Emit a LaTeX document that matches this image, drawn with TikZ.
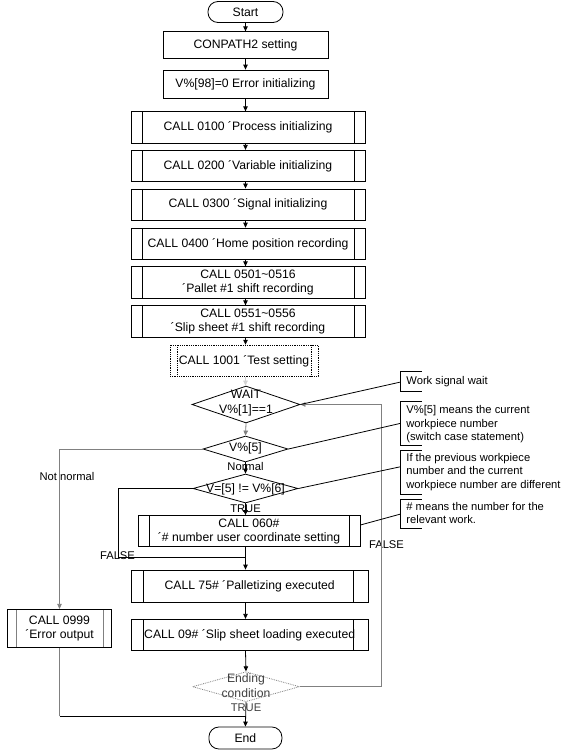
\documentclass[tikz,border=0pt]{standalone}
\usepackage{fontspec}
\setmainfont{Liberation Sans}
\usetikzlibrary{arrows.meta,shapes.geometric}
\definecolor{lgray}{HTML}{808080}
\tikzset{bars/.style={solid}}
\begin{document}
\begin{tikzpicture}[x=1pt,y=-1pt, line width=0.8pt,
  every node/.style={font=\fontsize{12.2}{14}\selectfont, inner sep=0pt, align=center},
  tip/.style={-{Triangle[length=5pt,width=4.5pt]}},
  term/.style={draw, rounded corners=10pt, minimum width=#1, minimum height=21pt},
  procbox/.style 2 args={draw, minimum width=#1, minimum height=#2},
  callbox/.style n args={4}{draw, minimum width=#1, minimum height=#2,
    path picture={\draw[bars] ([xshift=#3]path picture bounding box.north west) -- ([xshift=#3]path picture bounding box.south west);
                  \draw[bars] ([xshift=-#4]path picture bounding box.north east) -- ([xshift=-#4]path picture bounding box.south east);}},
  dia/.style 2 args={diamond, draw, minimum width=#1, minimum height=#2},
  lab/.style={font=\fontsize{11.2}{13.5}\selectfont},
  note/.style={font=\fontsize{11.2}{13.5}\selectfont, align=left, anchor=west}
]
\fill[white] (0,0) rectangle (563,750);
\coordinate (axis) at (245.5,0);

% main column
\node[term=75pt] (start) at (245.5,12) {Start};
\node[procbox={165pt}{26.5pt}] (conpath) at (245.5,45) {CONPATH2 setting};
\node[procbox={165pt}{28pt}] (v98) at (245.5,84) {V\%[98]=0 Error initializing};
\node[callbox={234pt}{31.5pt}{11.5pt}{11pt}] (c0100) at (248,127.5) {CALL 0100 ´Process initializing};
\node[callbox={234pt}{31.5pt}{11.5pt}{11pt}] (c0200) at (248,166) {CALL 0200 ´Variable initializing};
\node[callbox={234pt}{31.5pt}{11.5pt}{11pt}] (c0300) at (248,204.7) {CALL 0300 ´Signal initializing};
\node[callbox={234pt}{31.5pt}{11.5pt}{11pt}] (c0400) at (248,243.8) {CALL 0400 ´Home position recording};
\node[callbox={234pt}{31.5pt}{11.5pt}{11pt}] (c0501) at (248,282.5) {CALL 0501\textasciitilde 0516\\´Pallet \#1 shift recording};
\node[callbox={234pt}{31.5pt}{11.5pt}{11pt}] (c0551) at (248,321.5) {CALL 0551\textasciitilde 0556\\´Slip sheet \#1 shift recording};
\node[callbox={148pt}{31.7pt}{7.7pt}{6.6pt}, densely dotted, bars/.style={densely dotted}] (c1001) at (244,361) {CALL 1001 ´Test setting};

\node[dia={108pt}{37pt}] (wait) at (246,404.5) {};
\node[font=\fontsize{12.2}{15}\selectfont] (waitt) at (246,403.5) {WAIT\\V\%[1]==1};
\node[dia={85pt}{26pt}] (v5) at (245.5,449) {};
\node (v5t) at (245.5,448.5) {V\%[5]};
\node[dia={105pt}{29pt}] (vne) at (245.5,488.5) {};
\node (vnet) at (245.5,489) {V=[5] != V\%[6]};

\node[callbox={222pt}{31pt}{11pt}{11pt}] (c060) at (249,531) {CALL 060\#\\´\# number user coordinate setting};
\node[callbox={237pt}{32pt}{11.7pt}{15pt}] (c75) at (249.7,586) {CALL 75\# ´Palletizing executed};
\node[callbox={237pt}{31.5pt}{11.7pt}{15pt}] (c09) at (249.7,635) {CALL 09\# ´Slip sheet loading executed};
\node[dia={107pt}{30pt}, lgray, densely dotted] (endc) at (246,686.7) {};
\node[font=\fontsize{12.2}{15}\selectfont, text=black!75] (endct) at (246,686) {Ending\\condition};
\node[term=73pt, minimum height=22pt] (end) at (245.4,738) {End};

\node[callbox={104.4pt}{38pt}{9.4pt}{8.4pt}, bars/.style={lgray}] (c0999) at (59.5,628.3) {CALL 0999\\´Error output};

% labels
\node[lab] (normal) at (245.5,466) {Normal};
\node[lab] (notnormal) at (67,476) {Not normal};
\node[lab] (true1) at (245.5,508.5) {TRUE};
\node[lab] (false1) at (117.5,555.5) {FALSE};
\node[lab] (false2) at (386.5,545) {FALSE};
\node[lab, text=black!75] (true2) at (246,708) {TRUE};

% connectors
\draw[tip] (start.south) -- (conpath.north);
\draw[tip] (conpath.south) -- (v98.north);
\draw[tip] (v98.south) -- (axis |- c0100.north);
\draw[tip] (axis |- c0100.south) -- (axis |- c0200.north);
\draw[tip] (axis |- c0200.south) -- (axis |- c0300.north);
\draw[tip] (axis |- c0300.south) -- (axis |- c0400.north);
\draw[tip] (axis |- c0400.south) -- (axis |- c0501.north);
\draw[tip] (axis |- c0501.south) -- (axis |- c0551.north);
\draw[tip] (axis |- c0551.south) -- (axis |- c1001.north);
\draw[tip, gray!35, line width=0.5pt] (axis |- c1001.south) -- (axis |- wait.north);
\draw[tip, lgray] (wait.south) -- (v5.north);
\draw[tip, lgray] (v5.west) -| (c0999.north);
\draw[tip] (v5.south) -- (vne.north);
\draw[tip] (vne.south) -- (axis |- c060.north);
\coordinate (j1) at (245.5,557.3);
\coordinate (fc) at (118.3,557.3);
\draw (vne.west) -| (fc) -- (j1);
\draw (axis |- c060.south) -- (j1);
\draw[tip] (j1) -- (axis |- c75.north);
\draw[tip] (axis |- c75.south) -- (axis |- c09.north);
\draw[tip] (axis |- c09.south) -- (endc.north);
\coordinate (lr) at (381.7,686.7);
\draw[tip, lgray] (endc.east) -- (lr) |- (wait.east);
\draw[tip] (endc.south) -- (end.north);
\coordinate (lc) at (59.5,716);
\coordinate (j2) at (245.5,716);
\draw[lgray] (c0999.south) -- (lc);
\draw (lc) -- (j2);

% callouts
\coordinate (k1) at (400.7,382);
\coordinate (k2) at (400.7,423.3);
\coordinate (k3) at (400.7,466.7);
\coordinate (k4) at (400.7,514);
\draw (421.5,371.7) -- (400.7,371.7) -- (400.7,391.7) -- (421.5,391.7);
\draw (421.5,401.7) -- (400.7,401.7) -- (400.7,445) -- (421.5,445);
\draw (421.5,450) -- (400.7,450) -- (400.7,494.3) -- (421.5,494.3);
\draw (421.5,499) -- (400.7,499) -- (400.7,528) -- (421.5,528);
\node[note] (n1) at (406,382) {Work signal wait};
\node[note] (n2) at (406,424.3) {V\%[5] means the current\\workpiece number\\(switch case statement)};
\node[note] (n3) at (406,472) {If the previous workpiece\\number and the current\\workpiece number are different};
\node[note] (n4) at (406,513) {\# means the number for the\\relevant work.};
\draw (wait.east) -- (k1);
\draw (v5.east) -- (k2);
\draw (vne.east) -- (k3);
\draw ([yshift=6pt]c060.east) -- (k4);
\end{tikzpicture}
\end{document}
